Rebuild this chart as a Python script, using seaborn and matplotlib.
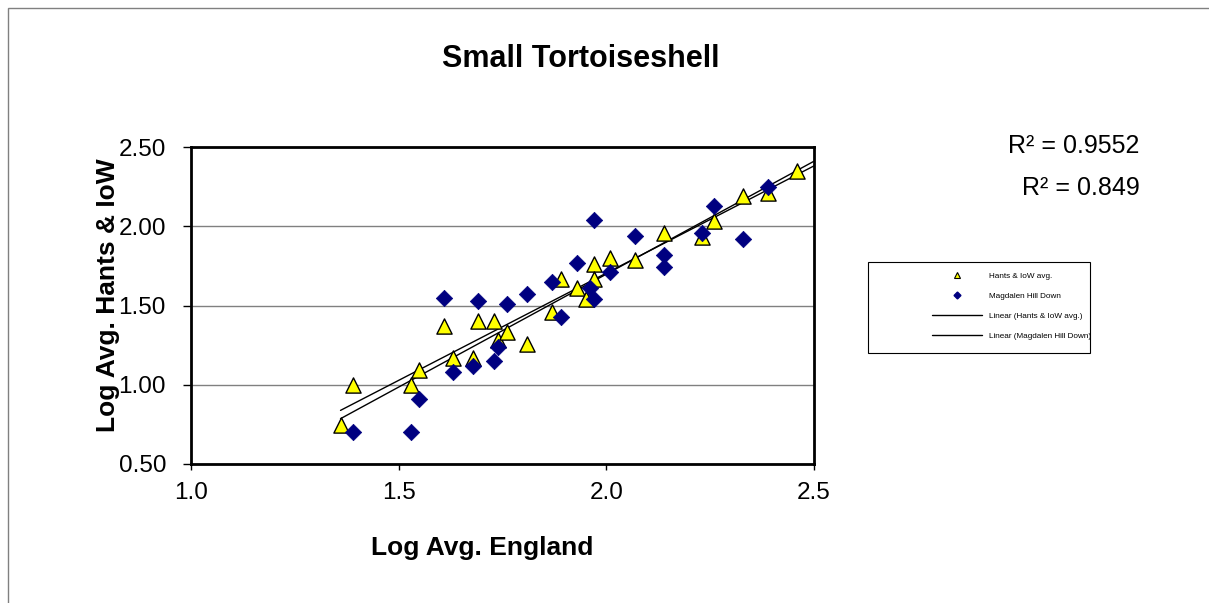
import numpy as np
import pandas as pd
import matplotlib
matplotlib.use("Agg")
import matplotlib.pyplot as plt
import seaborn as sns
from matplotlib.lines import Line2D
from matplotlib.patches import Rectangle

# Values (log10 averages)
hants_x = [1.36, 1.39, 1.53, 1.55, 1.61, 1.63, 1.68, 1.69, 1.73, 1.74, 1.76, 1.81, 1.87,
           1.89, 1.93, 1.95, 1.97, 1.97, 2.01, 2.07, 2.14, 2.23, 2.26, 2.33, 2.39, 2.46]
hants_y = [0.745, 1.00, 1.00, 1.09, 1.37, 1.17, 1.17, 1.40, 1.40, 1.28, 1.33, 1.26, 1.46,
           1.67, 1.61, 1.54, 1.76, 1.67, 1.80, 1.79, 1.96, 1.93, 2.03, 2.19, 2.21, 2.35]

magd_x = [1.39, 1.53, 1.55, 1.61, 1.63, 1.68, 1.69, 1.73, 1.74, 1.76, 1.81, 1.87, 1.89,
          1.93, 1.96, 1.97, 1.97, 2.01, 2.07, 2.14, 2.14, 2.23, 2.26, 2.33, 2.39]
magd_y = [0.70, 0.70, 0.91, 1.55, 1.08, 1.12, 1.53, 1.15, 1.24, 1.51, 1.57, 1.65, 1.43,
          1.77, 1.61, 1.54, 2.04, 1.71, 1.94, 1.82, 1.74, 1.96, 2.13, 1.92, 2.25]

r2_labels = ["R² = 0.9552", "R² = 0.849"]

hants = pd.DataFrame({"x": hants_x, "y": hants_y})
magd = pd.DataFrame({"x": magd_x, "y": magd_y})

sns.set_style("white")
plt.rcParams["font.family"] = ["Liberation Sans", "DejaVu Sans"]
plt.rcParams["text.color"] = "black"
plt.rcParams["axes.labelcolor"] = "black"
plt.rcParams["xtick.color"] = "black"
plt.rcParams["ytick.color"] = "black"

W, H = 1209, 603
fig = plt.figure(figsize=(W / 100, H / 100), dpi=100)
ax = fig.add_axes([191 / W, 1 - 464 / H, 623 / W, 317 / H])

def px(x, y):
    return x / W, 1 - y / H

# outer chart border
fig.patches.append(Rectangle(px(8, 620), 1.2, (620 - 8) / H,
                             transform=fig.transFigure, fill=False,
                             edgecolor="#808080", linewidth=1))

ax.grid(axis="y", color="#808080", linewidth=1)
ax.set_axisbelow(True)

# trend lines
xs = np.linspace(1.36, 2.5, 50)
for df in (hants, magd):
    k, b = np.polyfit(df["x"], df["y"], 1)
    ax.plot(xs, k * xs + b, color="black", linewidth=1, zorder=2)

sns.scatterplot(data=hants, x="x", y="y", marker="^", s=120, color="#FFFF00",
                edgecolor="black", linewidth=1, ax=ax, zorder=3)
sns.scatterplot(data=magd, x="x", y="y", marker="D", s=70, color="#000080",
                edgecolor="#000080", linewidth=0.5, ax=ax, zorder=4)

ax.set_xlim(1.0, 2.5)
ax.set_ylim(0.5, 2.5)
ax.set_xticks([1.0, 1.5, 2.0, 2.5])
ax.set_xticklabels(["1.0", "1.5", "2.0", "2.5"], fontsize=17.5)
ax.set_yticks([0.5, 1.0, 1.5, 2.0, 2.5])
ax.set_yticklabels(["0.50", "1.00", "1.50", "2.00", "2.50"], fontsize=17.5)
ax.tick_params(axis="y", length=6, width=1, direction="out", left=True, pad=12)
ax.tick_params(axis="x", length=4, width=1, direction="out", bottom=True, pad=9)
for sp in ax.spines.values():
    sp.set_color("black")
    sp.set_linewidth(2)

ax.set_xlabel("Log Avg. England", fontsize=19, fontweight="bold")
ax.xaxis.set_label_coords((482 - 191) / 623, (464 - 548) / 317)
ax.set_ylabel("Log Avg. Hants & IoW", fontsize=19, fontweight="bold")
ax.yaxis.set_label_coords((108 - 191) / 623, (464 - 295) / 317)
ax.xaxis.label.set_va("center")
ax.yaxis.label.set_va("center")

fig.text(*px(581, 67), "Small Tortoiseshell", fontsize=22, fontweight="bold",
         ha="center", va="baseline")
fig.text(*px(1139, 153), r2_labels[0], fontsize=18, ha="right", va="baseline")
fig.text(*px(1140, 195), r2_labels[1], fontsize=18, ha="right", va="baseline")

# legend box drawn separately, entries placed inside
fig.patches.append(Rectangle(px(868, 353), 222 / W, 91 / H, transform=fig.transFigure,
                             fill=False, edgecolor="black", linewidth=0.8))
handles = [
    Line2D([], [], marker="^", linestyle="none", markersize=5, markerfacecolor="#FFFF00",
           markeredgecolor="black", markeredgewidth=0.8),
    Line2D([], [], marker="D", linestyle="none", markersize=3.5, markerfacecolor="#000080",
           markeredgecolor="#000080"),
    Line2D([], [], color="black", linewidth=1),
    Line2D([], [], color="black", linewidth=1),
]
labels = ["Hants & IoW avg.", "Magdalen Hill Down", "Linear (Hants & IoW avg.)",
          "Linear (Magdalen Hill Down)"]
fig.legend(handles, labels, loc="center left", bbox_to_anchor=px(932, 306),
           prop={"size": 5.9}, frameon=False,
           handlelength=6.1, labelspacing=1.5, borderpad=0, borderaxespad=0,
           handletextpad=0.8)

fig.savefig("out.png", dpi=100)
